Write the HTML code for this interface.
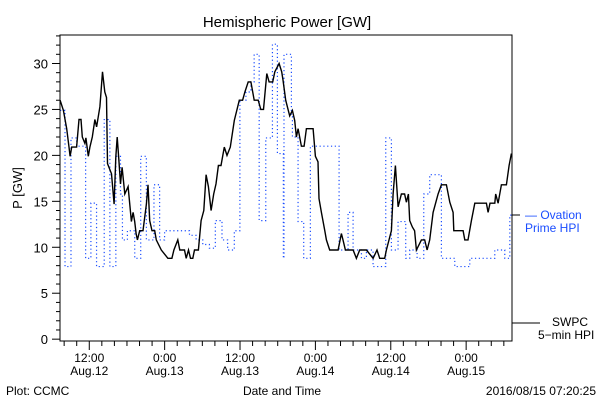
<!DOCTYPE html>
<html><head><meta charset="utf-8"><style>
body{margin:0;background:#fff;}
svg text{font-family:"Liberation Sans",sans-serif;}
</style></head><body>
<svg id="chart" width="600" height="400" xmlns="http://www.w3.org/2000/svg">
<rect x="0" y="0" width="600" height="400" fill="#fff"/>
<text x="287" y="27" font-size="15" text-anchor="middle">Hemispheric Power [GW]</text>
<text transform="translate(22,188) rotate(-90)" font-size="13" text-anchor="middle">P [GW]</text>
<text x="282" y="395" font-size="12" text-anchor="middle">Date and Time</text>
<text x="6" y="395" font-size="12">Plot: CCMC</text>
<text x="596" y="395" font-size="12" text-anchor="end">2016/08/15 07:20:25</text>
<g id="axes"></g>
<g id="series"></g>
<rect x="60" y="35" width="452" height="306" fill="none" stroke="#000" stroke-width="1"/>
<g>
<line x1="512" y1="215" x2="520" y2="215" stroke="#000"/>
<text x="525" y="219" font-size="12" fill="#1a4dff">— Ovation</text>
<text x="525" y="232" font-size="12" fill="#1a4dff">Prime HPI</text>
</g>
<g>
<line x1="512" y1="323" x2="540" y2="323" stroke="#000"/>
<text x="552" y="326" font-size="12">SWPC</text>
<text x="538" y="339" font-size="12">5−min HPI</text>
</g>
</svg>
<script>
const swpcT=[7.35,7.88,8.41,8.78,8.94,9.2,9.99,10.36,10.68,10.89,11.31,11.47,11.84,12.1,12.48,12.9,13.16,13.69,14.11,14.48,14.75,14.91,15.54,15.96,16.23,16.44,16.7,16.97,17.23,17.65,18.18,18.71,18.97,19.24,19.45,19.66,20.03,20.56,21.09,21.35,21.62,21.98,22.41,22.67,23.46,24.52,25.15,25.47,26.1,26.42,27.16,27.43,27.8,28.11,28.48,28.75,29.38,29.8,30.23,30.6,30.97,31.39,31.81,32.18,32.55,32.97,33.5,33.92,34.45,35.09,35.88,36.41,36.78,37.3,37.73,38.25,38.89,39.31,39.73,40.26,40.63,41.21,41.53,42.22,42.64,42.85,43.28,43.91,44.34,44.71,44.97,45.24,45.77,46.2,46.57,47.63,48,48.42,48.58,48.96,49.49,49.75,50.28,50.92,51.61,52.14,52.4,52.78,54.0,54.53,55.06,56.12,57.18,57.8,58.24,59.04,59.31,60.1,60.37,60.74,61.16,61.69,62.2,62.49,62.8,63.02,63.45,63.8,64.08,64.88,65.4,65.78,66.2,66.74,67.53,68.06,68.86,69.39,69.92,70.03,71.51,71.78,72.3,72.84,73.37,75.23,75.49,75.8,76.56,76.7,77.09,77.62,78.41,78.84,79.2];
const swpcV=[26,24.9,22.9,20.9,19.9,20.9,20.9,23.9,23.9,22,21.3,21.9,19.9,20.9,22,23.9,23.1,25.3,29.1,26.9,26.3,19.1,18,14.7,19.8,22,19.6,16.9,18.7,15.8,16.6,12.8,13.8,12.8,11.5,10.8,11.8,11.8,14.7,16.8,12.9,11.8,11.8,10.8,9.7,8.8,8.8,9.7,10.8,9.7,9.7,8.8,9.7,8.8,8.8,9.7,9.7,12.9,14,17.9,16.6,14,15.8,16.9,18.9,18.9,20.9,20,20.9,23.8,26,26,26.9,28,28,26,26,25,25,28.9,28,28,29.1,30,29.1,28.2,26,24.3,24.9,23.8,22,22.9,21,21,22.9,22.9,19.9,19.3,15.3,13.8,11.8,10.8,9.7,9.7,9.7,11.5,10.8,9.7,9.7,8.8,9.7,9.7,8.8,9.7,8.8,8.8,9.7,11.8,15.8,18.9,14.4,15.8,15.8,14.9,15.8,12.9,12.2,11.8,9.7,10.8,10.8,9.7,10.8,13.8,15.8,16.8,16.8,14.9,13.8,11.8,11.8,10.8,10.8,12.9,14.8,14.8,13.8,14.8,14.8,15.8,14.8,16.8,16.8,18.9,20.2];
const ovT=[7.35,8.14,9.09,9.99,11.42,12.26,13.16,14.38,15.28,16.23,16.97,17.28,18.07,19.24,20.19,21.09,22.3,23.2,23.99,27.95,29.01,30.07,31.12,32.07,33.13,34.03,35.09,35.98,36.94,37.73,38.25,39.05,40.1,41.16,41.95,42.9,43.0,44.18,44.34,45.24,46.14,47.2,51.77,52.41,53.2,54.0,55.33,56.12,57.18,59.2,60.1,61.16,62.38,63.02,64.19,65.25,66.2,68.06,70.19,72.58,76.56,78.15,78.95,79.3];
const ovV=[24.9,7.9,21.9,21,8.8,14.8,7.9,23.9,7.9,19.9,15.8,10.8,11.8,8.8,19.9,10.8,16.8,10.8,11.8,11.3,10.8,10.3,9.9,12.9,10.8,9.7,11.8,26,26.9,28,31,12.9,21.9,32.1,20.2,8.8,31,24.2,22,12.8,8.8,21,9.7,9.7,13.8,9.7,8.8,9.7,7.9,21.9,9.7,12.8,8.8,9.7,8.8,15.8,17.9,8.8,7.9,8.8,9.7,8.8,13.5,13.5];
const yTickLabels=["0","5","10","15","20","25","30"];
const xTickLabels=[["12:00","Aug.12"],["0:00","Aug.13"],["12:00","Aug.13"],["0:00","Aug.14"],["12:00","Aug.14"],["0:00","Aug.15"]];
const NS="http://www.w3.org/2000/svg";
const X0=60,X1=512,Y0=341,Y1=35,T0=7.34,T1=79.3,V0=-0.2,V1=33.1;
function xs(t){return X0+(t-T0)/(T1-T0)*(X1-X0);}
function ys(v){return Y0-(v-V0)/(V1-V0)*(Y0-Y1);}
function mk(tag,attrs,parent){const e=document.createElementNS(NS,tag);for(const k in attrs)e.setAttribute(k,attrs[k]);parent.appendChild(e);return e;}
const ax=document.getElementById('axes'),se=document.getElementById('series');
for(let v=0;v<=33;v++){const y=ys(v);const major=v%5===0;
 const l=mk('line',{x1:X0-(major?8:4),x2:X0,y1:y,y2:y,stroke:'#000'},ax);
 
 }
yTickLabels.forEach((s,i)=>{const t=mk('text',{x:X0-12,y:ys(i*5)+5,'font-size':13,'text-anchor':'end'},ax);t.textContent=s;
 
 });
for(let h=8;h<=79;h+=2){const x=xs(h);const major=h%12===0;
 const l=mk('line',{x1:x,x2:x,y1:Y0,y2:Y0+(major?9:5),stroke:'#000'},ax);
 
 }
xTickLabels.forEach((p,i)=>{const x=xs(12+i*12);
 const t=mk('text',{x:x,y:362,'font-size':12,'text-anchor':'middle'},ax);t.textContent=p[0];
 
 
 const d=mk('text',{x:x,y:375,'font-size':12,'text-anchor':'middle'},ax);d.textContent=p[1];
 
 });
let dOv='';ovT.forEach((t,i)=>{const x=xs(t),y=ys(ovV[i]);if(i===0)dOv+='M'+x+' '+y;else dOv+='H'+x+'V'+y;});
const po=mk('path',{d:dOv,fill:'none',stroke:'#1a4dff','stroke-width':1.2,'stroke-dasharray':'1.2 2.6'},se);


let dS='';swpcT.forEach((t,i)=>{dS+=(i?'L':'M')+xs(t).toFixed(1)+' '+ys(swpcV[i]).toFixed(1);});
const ps=mk('path',{d:dS,fill:'none',stroke:'#000','stroke-width':1.4},se);


</script>
</body></html>
